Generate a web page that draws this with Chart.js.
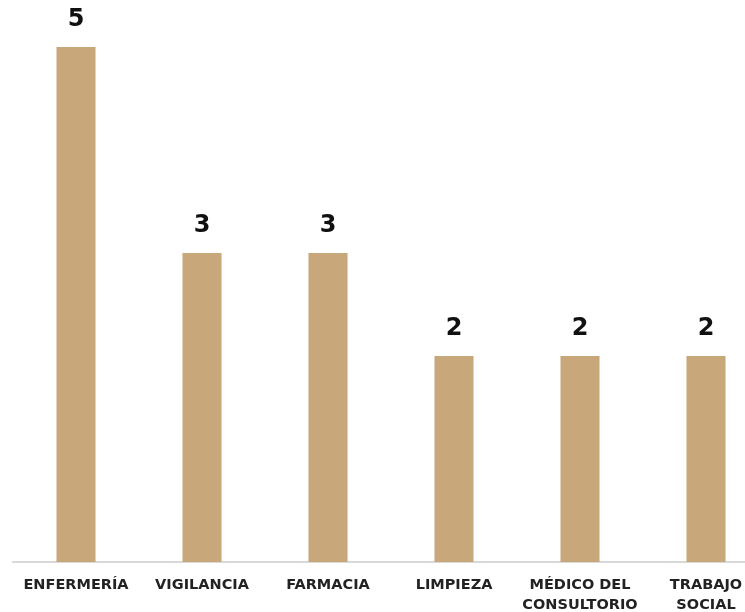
<!DOCTYPE html>
<html>
<head>
<meta charset="utf-8">
<script src="https://cdn.jsdelivr.net/npm/chart.js@4"></script>
<style>
  html, body { margin: 0; padding: 0; background: #fff; overflow: hidden; }
  #wrap { width: 769px; height: 612px; }
</style>
</head>
<body>
<div id="wrap"><canvas id="grafica"></canvas></div>
<script>
// Datos de la gráfica
const categorias = ['ENFERMERÍA', 'VIGILANCIA', 'FARMACIA', 'LIMPIEZA', ['MÉDICO DEL', 'CONSULTORIO'], ['TRABAJO', 'SOCIAL']];
const valores = [5, 3, 3, 2, 2, 2];

// Etiquetas de valor encima de cada barra
const etiquetasValor = {
  id: 'etiquetasValor',
  afterDatasetsDraw(chart) {
    const ctx = chart.ctx;
    const meta = chart.getDatasetMeta(0);
    ctx.save();
    ctx.font = 'bold 24px "DejaVu Sans", sans-serif';
    ctx.fillStyle = '#111';
    ctx.textAlign = 'center';
    ctx.textBaseline = 'middle';
    meta.data.forEach(function (bar, i) {
      ctx.fillText(String(valores[i]), bar.x, bar.y - 27);
    });
    ctx.restore();
  }
};

new Chart(document.getElementById('grafica'), {
  type: 'bar',
  data: {
    labels: categorias,
    datasets: [{
      data: valores,
      backgroundColor: '#c8a77a',
      barPercentage: 0.31,
      categoryPercentage: 1
    }]
  },
  options: {
    responsive: true,
    maintainAspectRatio: false,
    animation: false,
    layout: { padding: { top: 47, left: 13, right: 0, bottom: 0 } },
    plugins: { legend: { display: false }, tooltip: { enabled: false } },
    scales: {
      x: {
        grid: { display: false },
        border: { display: true, color: '#d9d9d9', width: 2 },
        ticks: {
          color: '#222',
          font: { family: '"DejaVu Sans", sans-serif', size: 14.5, weight: 'bold', lineHeight: 1.38 },
          maxRotation: 0,
          autoSkip: false,
          padding: 5
        },
        afterFit(scale) { scale.height = 50; }
      },
      y: {
        display: false,
        min: 0,
        max: 5
      }
    }
  },
  plugins: [etiquetasValor]
});
</script>
</body>
</html>
